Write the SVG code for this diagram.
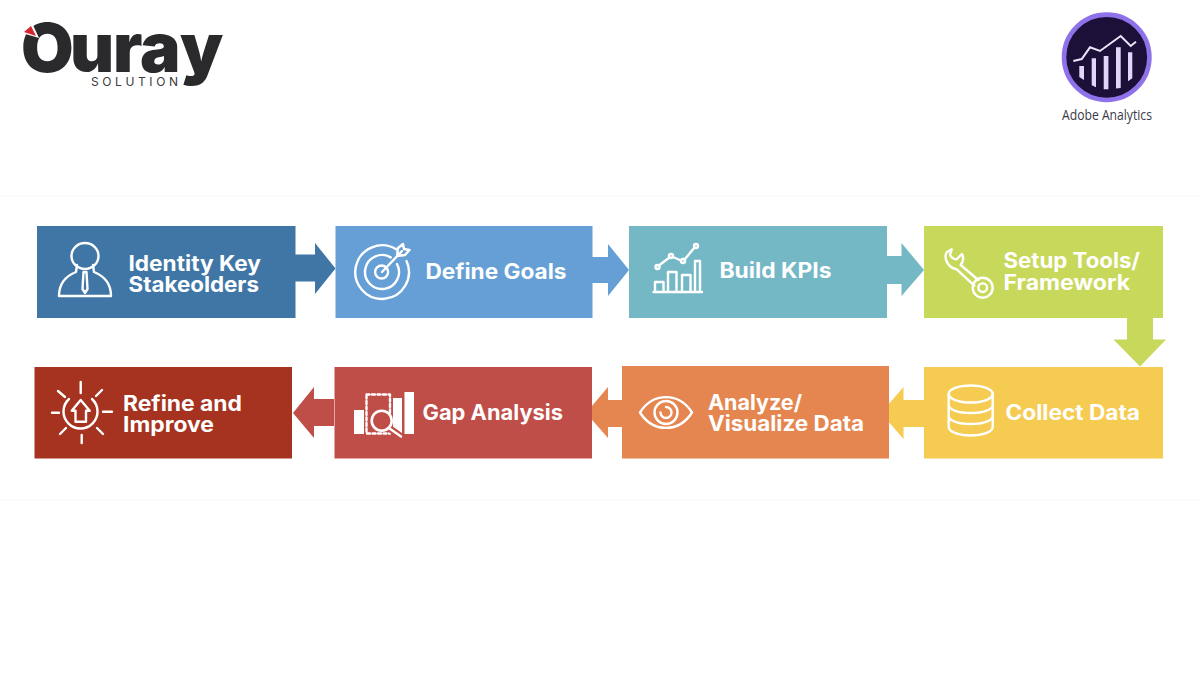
<svg xmlns="http://www.w3.org/2000/svg" width="1200" height="675" viewBox="0 0 1200 675">
<style>
.lbl{font-family:"Inter","Liberation Sans",sans-serif;font-weight:700;font-size:21px;fill:#fff}
.ic{fill:none;stroke:#fff;stroke-width:2.4;stroke-linecap:round;stroke-linejoin:round}
.icb{fill:#fff;stroke:none}
</style>
<rect width="1200" height="675" fill="#fff"/>
<path d="M0 196H1200M0 500H1200" stroke="#f8f8f6" stroke-width="1" fill="none"/>
<g id="logo-ouray">
<text x="21 70 113 140 180" y="72" font-family="Inter,'Liberation Sans',sans-serif" font-weight="900" font-size="68" fill="#2a2a2c">Ouray</text>
<path d="M22 33L32 23L39 38Z" fill="#fff"/>
<path d="M24 32L31 26L36 36Z" fill="#d8242c"/>
<text x="91" y="86" font-family="Inter,'Liberation Sans',sans-serif" font-weight="400" font-size="12" fill="#3a3a3c" textLength="87">SOLUTION</text>
</g>
<g id="logo-adobe">
<circle cx="1106.7" cy="57.3" r="42.700" fill="#1c0f38" stroke="#8f72ea" stroke-width="4.600"/>
<path d="M1073.300 61L1081.700 59L1090 47.300L1100 51L1120.700 36L1130.700 46L1136 41.700" fill="none" stroke="#ece4fb" stroke-width="2"/>
<g fill="#e2d6f8">
<path d="M1079.300 66h4.700v14l-4.700-3z"/>
<path d="M1091.700 58.300h4.300v29l-4.300-2z"/>
<path d="M1103.700 56h4.700v33.300h-4.700z"/>
<path d="M1116 47.300h4.700v40.700l-4.700 .5z"/>
<path d="M1128 52.300h4.300v26l-4.300 3z"/>
</g>
<text x="1062" y="119.500" font-family="'Open Sans','Liberation Sans',sans-serif" font-size="15" fill="#3b3b46" textLength="90" lengthAdjust="spacingAndGlyphs">Adobe Analytics</text>
</g>
<g id="connectors">
<path id="c1" d="M295 254.500H315V243L335.500 268.500L315 294V281.500H295Z" fill="#3f76a6"/>
<path id="c2" d="M592 257H608V244L629 270L608 296V283H592Z" fill="#659fd6"/>
<path id="c3" d="M887 256H901.500V243L924 270L901.500 296V284H887Z" fill="#74b8c6"/>
<path id="c4" d="M1127 318V339.500H1113.500L1140 366.500L1166 339.500H1153V318Z" fill="#c8d85a"/>
<path id="c5" d="M924 400H903.500V387L881 413L903.500 439V427H924Z" fill="#f6cb52"/>
<path id="c6" d="M622 400H608V387L586 413L608 438V427H622Z" fill="#e58650"/>
<path id="c7" d="M334 399H314V387L293 413L314 438V426H334Z" fill="#c04e48"/>
</g>
<g id="node-stakeholders">
<rect x="37" y="226" width="258.500" height="92" fill="#3f76a6"/>
<ellipse class="ic" cx="85" cy="256" rx="13.500" ry="13" stroke-width="2"/>
<path class="ic" d="M59 296C59 283 66 276 76 272L77 265M111 296C111 283 104 276 94 272L93 265M59 296H111" stroke-width="2"/>
<path class="ic" d="M83.500 272L82.500 289L85 293L87.500 289L86.500 272Z" stroke-width="1.600"/>
<text class="lbl" x="128.500" y="271" textLength="132.500" lengthAdjust="spacingAndGlyphs">Identity Key</text>
<text class="lbl" x="128.500" y="292" textLength="130.500" lengthAdjust="spacingAndGlyphs">Stakeolders</text>
</g>
<g id="node-goals">
<rect x="335.500" y="226" width="257" height="92" fill="#659fd6"/>
<path class="ic" d="M396.500 249.500A26.800 26.800 0 1 0 406.500 261"/>
<path class="ic" d="M390.700 257.400A17 17 0 1 0 397 264"/>
<circle class="ic" cx="381.600" cy="272" r="6.500"/>
<path class="ic" d="M382 272L402 251M397 256L398 248L403 244L404 249L409.500 250L405 255L397 256"/>
<text class="lbl" x="425.500" y="279" textLength="141" lengthAdjust="spacingAndGlyphs">Define Goals</text>
</g>
<g id="node-kpis">
<rect x="629" y="226" width="258" height="92" fill="#74b8c6"/>
<path class="ic" d="M653.500 292H702M655 291V282H663.500V291M668 291V272H676.500V291M682 291V275H690.500V291M695 291V261H700V291" stroke-width="2"/>
<path class="ic" d="M659.500 265L669.500 257.500M673 257L681 260.500M685 259L694.500 247.500" stroke-width="2"/>
<circle class="ic" cx="657.500" cy="267" r="2" stroke-width="1.800"/>
<circle class="ic" cx="671" cy="256" r="2" stroke-width="1.800"/>
<circle class="ic" cx="683" cy="261" r="2" stroke-width="1.800"/>
<circle class="ic" cx="696" cy="246" r="2" stroke-width="1.800"/>
<text class="lbl" x="719.500" y="278" textLength="112" lengthAdjust="spacingAndGlyphs">Build KPIs</text>
</g>
<g id="node-tools">
<rect x="924" y="226" width="239" height="92" fill="#c8d85a"/>
<path class="ic" d="M974.300 285.700L956.700 269.300C948 268 943 258 947 252L951.700 249.300L950 255Q953 260 957 259L962 254C964 258 963 262 960.700 265L978.300 280" stroke-width="2.400"/>
<circle class="ic" cx="982.700" cy="287.700" r="10" stroke-width="2.400"/>
<circle class="ic" cx="982.700" cy="287.700" r="4.300" stroke-width="2.200"/>
<text class="lbl" x="1003.500" y="268" textLength="136.500" lengthAdjust="spacingAndGlyphs">Setup Tools/</text>
<text class="lbl" x="1003.500" y="290" textLength="126.500" lengthAdjust="spacingAndGlyphs">Framework</text>
</g>
<g id="node-collect">
<rect x="924" y="367" width="239" height="91.500" fill="#f6cb52"/>
<ellipse class="ic" cx="970.700" cy="394" rx="22" ry="8.500" stroke-width="2.600"/>
<path class="ic" d="M948.700 394V427C948.700 432 959 435.500 970.700 435.500S992.700 432 992.700 427V394M948.700 405C948.700 410 959 413 970.700 413S992.700 410 992.700 405M948.700 416C948.700 421 959 424 970.700 424S992.700 421 992.700 416" stroke-width="2.600"/>
<text class="lbl" x="1005.500" y="419.500" textLength="134.500" lengthAdjust="spacingAndGlyphs">Collect Data</text>
</g>
<g id="node-analyze">
<rect x="622" y="366" width="267" height="92.500" fill="#e58650"/>
<path class="ic" d="M640 412.500C653 392 679 392 692 412.500C679 433 653 433 640 412.500Z" stroke-width="2.800"/>
<circle class="ic" cx="666" cy="412.500" r="11.500" stroke-width="2.400"/>
<path class="ic" d="M666 407A5.500 5.500 0 1 1 660.500 412.500" stroke-width="2.400"/>
<text class="lbl" x="708" y="409.500" textLength="94" lengthAdjust="spacingAndGlyphs">Analyze/</text>
<text class="lbl" x="708" y="431" textLength="156" lengthAdjust="spacingAndGlyphs">Visualize Data</text>
</g>
<g id="node-gap">
<rect x="334.500" y="367" width="257.500" height="91.500" fill="#c04e48"/>
<rect class="icb" x="354" y="410" width="10" height="24"/>
<rect class="icb" x="393" y="398" width="9" height="36"/>
<rect class="icb" x="404.500" y="392" width="9.500" height="42"/>
<rect class="ic" x="366.500" y="394.500" width="23.500" height="39" stroke-dasharray="3 2.500" stroke-width="1.800" stroke-linecap="butt"/>
<path d="M389 428L401 436.500" stroke="#c04e48" stroke-width="7" fill="none"/>
<circle cx="381.700" cy="420.700" r="10" fill="#c04e48" stroke="#fff" stroke-width="2.600"/>
<path class="ic" d="M389.500 428.500L401 436.500" stroke-width="3.800"/>
<text class="lbl" x="422.500" y="420" textLength="140.500" lengthAdjust="spacingAndGlyphs">Gap Analysis</text>
</g>
<g id="node-refine">
<rect x="34.500" y="367" width="257.500" height="91.500" fill="#a5331f"/>
<path class="ic" d="M69 399A17 17 0 1 0 92 399" stroke-width="2.400"/>
<path class="ic" d="M80.700 400L71.700 410.700H75.500V421.700H86V410.700H89.700Z" stroke-width="2.400"/>
<path class="ic" d="M80.700 382V393M52 412.700H59M103 411.700H112M58 391L65 397M102 390L96 396M60 434L66 428M103 434L97 428M81.700 435V443" stroke-width="2.400"/>
<text class="lbl" x="123" y="410.500" textLength="119" lengthAdjust="spacingAndGlyphs">Refine and</text>
<text class="lbl" x="123" y="431.500" textLength="91" lengthAdjust="spacingAndGlyphs">Improve</text>
</g>
</svg>
